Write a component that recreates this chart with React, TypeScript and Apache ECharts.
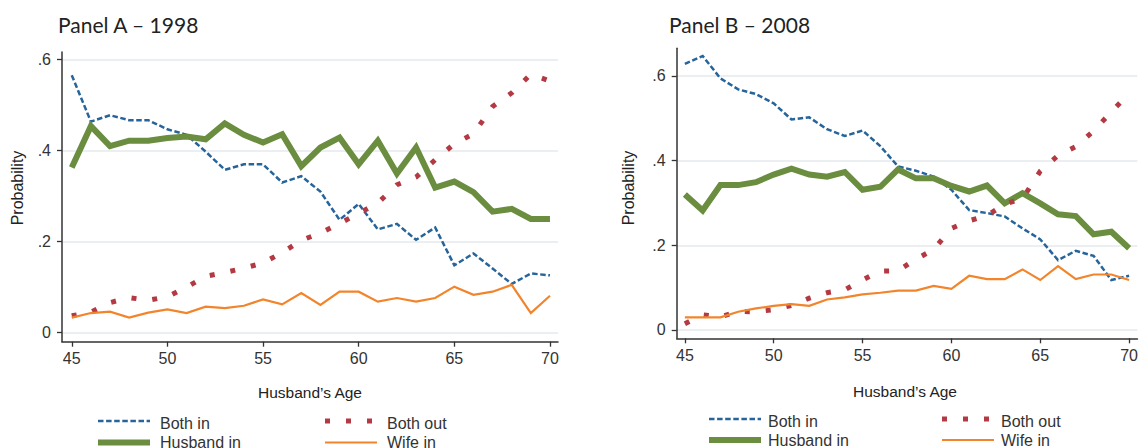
import React, { useEffect, useRef } from "react";
import * as echarts from "echarts";

const ages = [45, 46, 47, 48, 49, 50, 51, 52, 53, 54, 55, 56, 57, 58, 59, 60, 61, 62, 63, 64, 65, 66, 67, 68, 69, 70];
const xTicks = [45, 50, 55, 60, 65, 70];
const yTicks = [0, 0.2, 0.4, 0.6];

// Panel A – 1998
const bothInA = [0.566, 0.464, 0.478, 0.467, 0.467, 0.447, 0.435, 0.398, 0.358, 0.37, 0.37, 0.33, 0.344, 0.31, 0.248, 0.283, 0.227, 0.239, 0.204, 0.231, 0.148, 0.174, 0.141, 0.107, 0.13, 0.126];
const husbandInA = [0.363, 0.454, 0.41, 0.422, 0.422, 0.428, 0.431, 0.425, 0.46, 0.435, 0.418, 0.436, 0.366, 0.407, 0.429, 0.37, 0.422, 0.35, 0.407, 0.319, 0.332, 0.309, 0.266, 0.272, 0.25, 0.25];
const bothOutA = [0.037, 0.045, 0.066, 0.077, 0.071, 0.079, 0.1, 0.124, 0.132, 0.142, 0.153, 0.176, 0.203, 0.219, 0.24, 0.262, 0.285, 0.325, 0.342, 0.38, 0.415, 0.437, 0.497, 0.527, 0.568, 0.553];
const wifeInA = [0.033, 0.043, 0.046, 0.033, 0.044, 0.051, 0.043, 0.057, 0.054, 0.059, 0.073, 0.062, 0.087, 0.061, 0.09, 0.09, 0.068, 0.076, 0.068, 0.076, 0.101, 0.083, 0.09, 0.105, 0.043, 0.081];

// Panel B – 2008
const bothInB = [0.628, 0.647, 0.594, 0.568, 0.557, 0.535, 0.497, 0.502, 0.474, 0.458, 0.471, 0.434, 0.386, 0.376, 0.362, 0.331, 0.283, 0.276, 0.268, 0.24, 0.214, 0.165, 0.187, 0.175, 0.118, 0.128];
const husbandInB = [0.32, 0.282, 0.342, 0.342, 0.349, 0.367, 0.381, 0.367, 0.362, 0.373, 0.331, 0.338, 0.379, 0.358, 0.358, 0.34, 0.327, 0.341, 0.299, 0.323, 0.299, 0.273, 0.269, 0.226, 0.232, 0.193];
const bothOutB = [0.015, 0.036, 0.031, 0.044, 0.043, 0.048, 0.058, 0.075, 0.088, 0.095, 0.118, 0.139, 0.14, 0.167, 0.19, 0.24, 0.258, 0.27, 0.297, 0.31, 0.375, 0.412, 0.433, 0.47, 0.515, 0.558];
const wifeInB = [0.03, 0.03, 0.03, 0.043, 0.051, 0.057, 0.061, 0.057, 0.072, 0.077, 0.084, 0.088, 0.093, 0.093, 0.104, 0.097, 0.128, 0.12, 0.12, 0.143, 0.118, 0.151, 0.12, 0.131, 0.131, 0.118];

const seriesNames = ["Both in", "Husband in", "Both out", "Wife in"];

const BLUE = "#26649a";
const GREEN = "#6a8d3f";
const RED = "#b33a42";
const ORANGE = "#f2852c";
const AXIS = "#333333";
const GRID = "#e4eaec";
const FONT = "Liberation Sans, Arial, sans-serif";

const styles = [
  { color: BLUE, width: 2.5, type: [5.5, 2.6] as any },
  { color: GREEN, width: 6, type: "solid" as any },
  { color: RED, width: 5, type: [5, 16] as any },
  { color: ORANGE, width: 2.2, type: "solid" as any },
];

function pairs(vals: number[]) {
  return ages.map((a, i) => [a, vals[i]]);
}

function fmtY(v: number) {
  if (Math.abs(v) < 1e-9) return "0";
  return String(Math.round(v * 10) / 10).replace(/^0/, "");
}

function makeAxes(gridIndex: number, xMin: number, xMax: number, yMin: number, yMax: number) {
  const x = {
    gridIndex,
    type: "value",
    min: xMin,
    max: xMax,
    axisLine: { show: true, onZero: false, lineStyle: { color: AXIS, width: 1.5 } },
    axisTick: { show: true, customValues: xTicks, length: 5, lineStyle: { color: AXIS, width: 1.3 } },
    axisLabel: { customValues: xTicks, fontSize: 16, color: AXIS, margin: 9, fontFamily: FONT },
    splitLine: { show: false },
  };
  const y = {
    gridIndex,
    type: "value",
    min: yMin,
    max: yMax,
    axisLine: { show: true, onZero: false, lineStyle: { color: AXIS, width: 1.5 } },
    axisTick: { show: true, customValues: yTicks, length: 5, lineStyle: { color: AXIS, width: 1.3 } },
    axisLabel: { customValues: yTicks, fontSize: 16, color: AXIS, margin: 11, fontFamily: FONT, formatter: fmtY },
    splitLine: { show: true, lineStyle: { color: GRID, width: 1.5 } },
  };
  return { x, y };
}

function makeSeries(idx: number, data: number[][]) {
  return data.map((vals, k) => ({
    type: "line",
    name: seriesNames[k],
    xAxisIndex: idx,
    yAxisIndex: idx,
    data: pairs(vals as any),
    showSymbol: false,
    symbol: "none",
    lineStyle: { color: styles[k].color, width: styles[k].width, type: styles[k].type, cap: "butt", join: "miter" },
    itemStyle: { color: styles[k].color },
    z: 2 + k,
  }));
}

function legend(x0: number, xText: number, x1: number, xText2: number, yRow1: number, yRow2: number, off1: number, off2: number) {
  const els: any[] = [];
  const rows = [
    { k: 0, x: x0, tx: xText, y: yRow1, off: off1 },
    { k: 2, x: x1, tx: xText2, y: yRow1, off: off1 },
    { k: 1, x: x0, tx: xText, y: yRow2, off: off2 },
    { k: 3, x: x1, tx: xText2, y: yRow2, off: off2 },
  ];
  rows.forEach((r) => {
    const s = styles[r.k];
    els.push({
      type: "line",
      shape: { x1: r.x, y1: r.y, x2: r.x + (r.k === 2 ? 47 : 52), y2: r.y },
      style: {
        stroke: s.color,
        lineWidth: s.width,
        lineDash: Array.isArray(s.type) ? s.type : null,
        lineCap: "butt",
      },
    });
    els.push({
      type: "text",
      x: r.tx,
      y: r.y + r.off,
      style: { text: seriesNames[r.k], fill: AXIS, font: `16px ${FONT}`, verticalAlign: "middle", align: "left" },
    });
  });
  return els;
}

function textEl(text: string, x: number, y: number, font: string, rotation = 0, align = "center") {
  return {
    type: "text",
    x,
    y,
    rotation,
    style: { text, fill: "#222", font, align, verticalAlign: "middle" },
  };
}

export default function App() {
  const ref = useRef<HTMLDivElement>(null);
  useEffect(() => {
    if (!ref.current) return;
    const chart = echarts.init(ref.current, null, { renderer: "svg" });
    const a = makeAxes(0, 44.49, 70.42, -0.02, 0.617);
    const b = makeAxes(1, 44.54, 70.47, -0.0196, 0.665);
    const option: any = {
      animation: false,
      backgroundColor: "#ffffff",
      grid: [
        { left: 62, top: 52, width: 496, height: 289.7 },
        { left: 676.7, top: 48.3, width: 464.3, height: 290 },
      ],
      xAxis: [a.x, b.x],
      yAxis: [a.y, b.y],
      series: [
        ...makeSeries(0, [bothInA, husbandInA, bothOutA, wifeInA]),
        ...makeSeries(1, [bothInB, husbandInB, bothOutB, wifeInB]),
      ],
      graphic: [
        textEl("Panel A – 1998", 58, 24, `21px Lato, sans-serif`, 0, "left"),
        textEl("Panel B – 2008", 669, 24, `21px Lato, sans-serif`, 0, "left"),
        textEl("Probability", 17, 188, `16px ${FONT}`, Math.PI / 2),
        textEl("Probability", 628, 188, `16px ${FONT}`, Math.PI / 2),
        textEl("Husband’s Age", 310, 392, `15.5px ${FONT}`),
        textEl("Husband’s Age", 905, 391, `15.5px ${FONT}`),
        ...legend(98, 160, 325, 387, 421, 442.5, 2.5, 0),
        ...legend(709, 768, 942, 1001, 419, 440, 2, 0.5),
      ],
    };
    chart.setOption(option);
    return () => chart.dispose();
  }, []);
  return (
    <div
      ref={ref}
      style={{ position: "fixed", left: 0, top: 0, width: 1141, height: 448, background: "#fff" }}
    />
  );
}
